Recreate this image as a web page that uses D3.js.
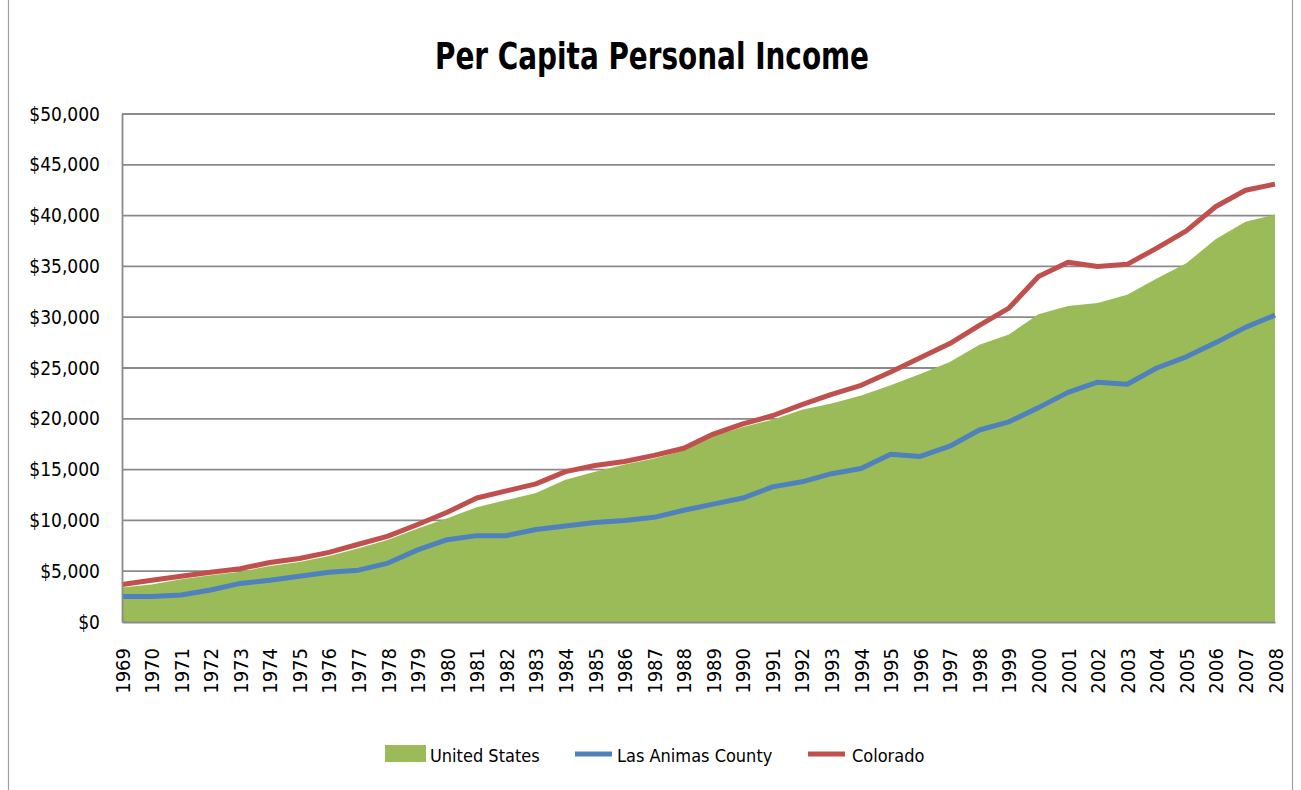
<!DOCTYPE html>
<meta charset="utf-8">
<script src="https://d3js.org/d3.v7.min.js"></script>
<style>
    body { margin: 0; background: white; }
    text { font-family: "Liberation Sans Narrow", "DejaVu Sans Condensed", "Liberation Sans", sans-serif; fill: #000; }
</style>
<div id="my_dataviz"></div>
<script>
// data
var years = d3.range(1969, 2009);
var unitedStates = [3400, 3700, 4200, 4600, 4950, 5500, 5900, 6500, 7250, 8100,
    9200, 10200, 11300, 12000, 12700, 14000, 14800, 15500, 16100, 16900,
    18300, 19200, 19900, 20900, 21500, 22300, 23300, 24400, 25600, 27300,
    28300, 30300, 31100, 31400, 32200, 33800, 35300, 37700, 39400, 40100];
var lasAnimas = [2500, 2500, 2650, 3150, 3800, 4100, 4500, 4900, 5100, 5800,
    7100, 8100, 8500, 8500, 9100, 9450, 9800, 10000, 10300, 11000,
    11600, 12200, 13300, 13800, 14600, 15100, 16500, 16300, 17300, 18900,
    19700, 21100, 22600, 23600, 23400, 25000, 26100, 27500, 29000, 30200];
var colorado = [3700, 4100, 4500, 4900, 5250, 5850, 6250, 6850, 7650, 8450,
    9600, 10800, 12200, 12900, 13600, 14800, 15400, 15800, 16400, 17100,
    18500, 19500, 20300, 21400, 22400, 23300, 24600, 26000, 27400, 29200,
    30900, 34000, 35400, 35000, 35200, 36800, 38500, 40900, 42500, 43100];
var yTicks = [0, 5000, 10000, 15000, 20000, 25000, 30000, 35000, 40000, 45000, 50000];
var legendNames = ["United States", "Las Animas County", "Colorado"];

var W = 1301, H = 790;
var margin = {top: 114, right: 26, bottom: 168, left: 122},
    width = W - margin.left - margin.right,
    height = H - margin.top - margin.bottom;

var svg = d3.select("#my_dataviz")
    .append("svg")
    .attr("width", W)
    .attr("height", H);

// chart border
svg.append("rect")
    .attr("x", 8.5).attr("y", -5)
    .attr("width", 1284).attr("height", H + 10)
    .style("fill", "none").style("stroke", "#a0a0a0").style("stroke-width", 1.2);

// title (stretched a bit vertically, the original font is taller)
svg.append("text")
    .attr("transform", "translate(652,69) scale(1,1.18)")
    .attr("text-anchor", "middle")
    .style("font-size", "31px").style("font-weight", "bold")
    .text("Per Capita Personal Income");

var g = svg.append("g")
    .attr("transform", "translate(" + margin.left + "," + margin.top + ")");

var x = d3.scalePoint()
    .domain(years)
    .range([0, width]);

var y = d3.scaleLinear()
    .domain([0, 50000])
    .range([height, 0]);

// gridlines
g.append("g")
    .selectAll("line")
    .data(yTicks.slice(1))
    .enter()
    .append("line")
    .attr("x1", 0).attr("x2", width)
    .attr("y1", function(d) { return y(d); })
    .attr("y2", function(d) { return y(d); })
    .style("stroke", "#8a8a8a").style("stroke-width", 1.8);

// US area
var area = d3.area()
    .x(function(d, i) { return x(years[i]); })
    .y0(y(0))
    .y1(function(d) { return y(d); });

g.append("path")
    .datum(unitedStates)
    .attr("d", area)
    .style("fill", "#9BBB59");

var line = d3.line()
    .x(function(d, i) { return x(years[i]); })
    .y(function(d) { return y(d); });

g.append("path")
    .datum(lasAnimas)
    .attr("d", line)
    .style("fill", "none").style("stroke", "#4F81BD")
    .style("stroke-width", 5).style("stroke-linejoin", "round");

g.append("path")
    .datum(colorado)
    .attr("d", line)
    .style("fill", "none").style("stroke", "#C0504D")
    .style("stroke-width", 5).style("stroke-linejoin", "round");

// Y axis
var yAxis = g.append("g")
    .call(d3.axisLeft(y)
        .tickValues(yTicks)
        .tickSize(0)
        .tickPadding(22)
        .tickFormat(function(d) { return "$" + d3.format(",")(d); }));
yAxis.select(".domain").style("stroke", "#8a8a8a").style("stroke-width", 1.8);
yAxis.selectAll("text").style("font-size", "19px").style("font-family", null);

// X axis
var xAxis = g.append("g")
    .attr("transform", "translate(0," + height + ")")
    .call(d3.axisBottom(x).tickSize(0).tickPadding(0));
xAxis.select(".domain").style("stroke", "#8a8a8a").style("stroke-width", 1.8);
xAxis.selectAll("text")
    .attr("transform", "rotate(-90)")
    .attr("x", -26).attr("y", 0).attr("dy", "0.35em")
    .style("text-anchor", "end")
    .style("font-size", "20px").style("font-family", null);

// legend
var legend = svg.append("g").attr("transform", "translate(0,754)");
legend.append("rect")
    .attr("x", 385).attr("y", -9).attr("width", 41).attr("height", 17)
    .style("fill", "#9BBB59");
legend.append("line")
    .attr("x1", 575).attr("x2", 612).attr("y1", 0).attr("y2", 0)
    .style("stroke", "#4F81BD").style("stroke-width", 5);
legend.append("line")
    .attr("x1", 808).attr("x2", 845).attr("y1", 0).attr("y2", 0)
    .style("stroke", "#C0504D").style("stroke-width", 5);
legend.selectAll("text.leg")
    .data(legendNames)
    .enter()
    .append("text")
    .attr("class", "leg")
    .attr("x", function(d, i) { return [430, 617, 852][i]; })
    .attr("y", 8)
    .style("font-size", "18px")
    .text(function(d) { return d; });
</script>
